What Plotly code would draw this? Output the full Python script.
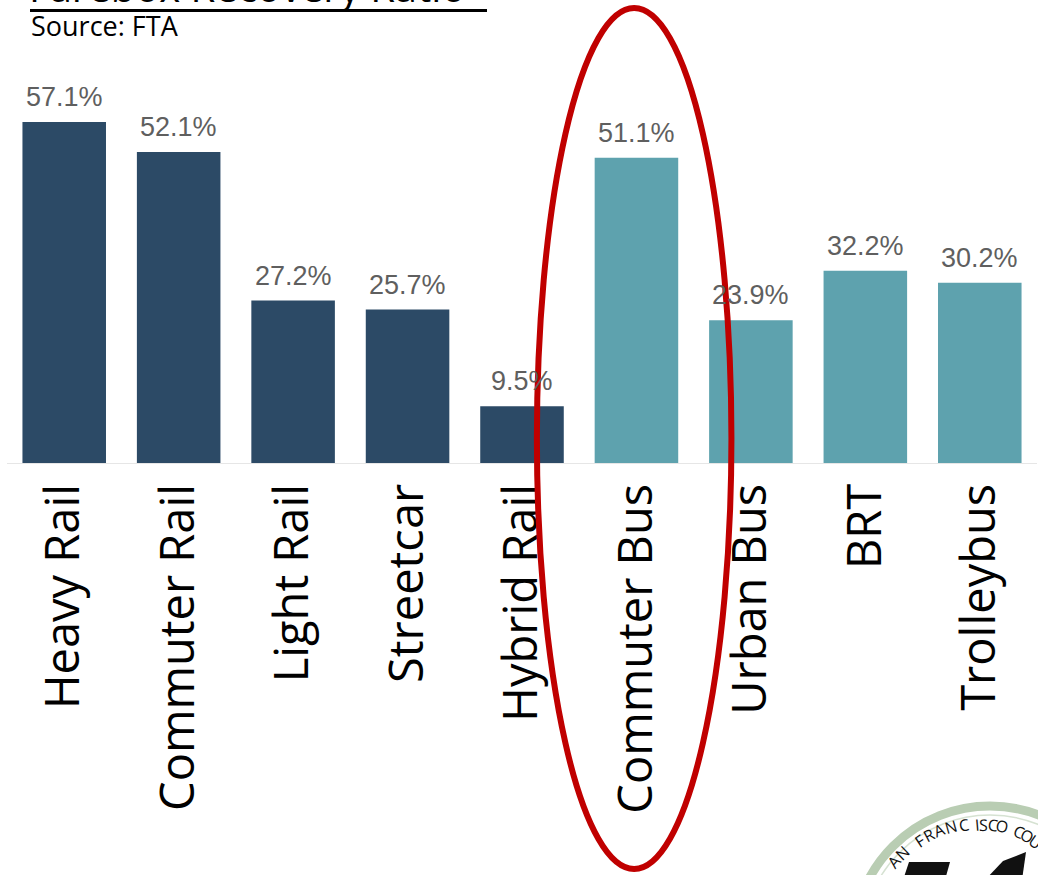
import math
import plotly.graph_objects as go

categories = ["Heavy Rail", "Commuter Rail", "Light Rail", "Streetcar", "Hybrid Rail",
              "Commuter Bus", "Urban Bus", "BRT", "Trolleybus"]
values = [57.1, 52.1, 27.2, 25.7, 9.5, 51.1, 23.9, 32.2, 30.2]
modes = ["Rail", "Rail", "Rail", "Rail", "Rail", "Bus", "Bus", "Bus", "Bus"]
value_labels = ["57.1%", "52.1%", "27.2%", "25.7%", "9.5%", "51.1%", "23.9%", "32.2%", "30.2%"]
title_text = "Farebox Recovery Ratio"
source_text = "Source: FTA"
highlight = "Commuter Bus"

colors = {"Rail": "#2c4a66", "Bus": "#5ea2ae"}

W, H = 1038, 875
ML, MR, MT, MB = 7, 1, 45, 412
PW, PH = W - ML - MR, H - MT - MB


def px(x):
    return (x - ML) / PW


def py(y):
    return (H - MB - y) / PH


fig = go.Figure()
fig.add_trace(go.Bar(
    x=categories, y=values,
    marker=dict(color=[colors[m] for m in modes], line=dict(width=0)),
    hoverinfo="x+y",
))

for c, v, t in zip(categories, values, value_labels):
    fig.add_annotation(x=c, y=v, text=t, showarrow=False, yanchor="bottom", yshift=8,
                       font=dict(family="Liberation Sans, Arial", size=27, color="#5f5f5f"))

# title (cut off at top of the slide) and source
fig.add_annotation(xref="paper", yref="paper", x=px(27), y=py(16), xanchor="left", yanchor="bottom",
                   text=title_text, showarrow=False,
                   font=dict(family="Open Sans", size=40, color="#000000"))
fig.add_shape(type="line", xref="paper", yref="paper", x0=px(30), x1=px(487), y0=py(10.5), y1=py(10.5),
              line=dict(color="#000000", width=3))
fig.add_annotation(xref="paper", yref="paper", x=px(29), y=py(46), xanchor="left", yanchor="bottom",
                   text=source_text, showarrow=False,
                   font=dict(family="Open Sans", size=27, color="#000000"))

# red ellipse highlighting Commuter Bus
hi = categories.index(highlight)
fig.add_shape(type="circle", xref="x", yref="paper",
              x0=hi - 0.87, x1=hi + 0.83, y0=py(869), y1=py(8),
              line=dict(color="#c00000", width=6), layer="above")

# partial logo in the bottom-right corner
cx, cy, R = 990, 943, 137
fig.add_shape(type="circle", xref="paper", yref="paper",
              x0=px(cx - R), x1=px(cx + R), y0=py(cy + R), y1=py(cy - R),
              line=dict(color="#b9cdb3", width=9), fillcolor="#ffffff", layer="above")
fig.add_shape(type="circle", xref="paper", yref="paper",
              x0=px(cx - R + 9), x1=px(cx + R - 9), y0=py(cy + R - 9), y1=py(cy - R + 9),
              line=dict(color="#d6e2d2", width=1.5), layer="above")
logo_letters = "AN FRANCISCO COU"
th, rt = -53, 105
for ch in logo_letters:
    w = 3.8 if ch == "I" else (4.5 if ch == " " else 6.0)
    th += w / 2
    if ch != " ":
        lx = cx + rt * math.sin(math.radians(th))
        ly = cy - rt * math.cos(math.radians(th))
        fig.add_annotation(xref="paper", yref="paper", x=px(lx), y=py(ly), text=ch, showarrow=False,
                           textangle=th, font=dict(family="Open Sans", size=16, color="#111111"))
    th += w / 2
fig.add_shape(type="path", xref="paper", yref="paper",
              path=f"M {px(903)} {py(880)} L {px(909)} {py(862)} L {px(950)} {py(862)} L {px(945)} {py(880)} Z",
              fillcolor="#111111", line=dict(width=0), layer="above")
fig.add_shape(type="path", xref="paper", yref="paper",
              path=f"M {px(985)} {py(880)} L {px(1003)} {py(861)} L {px(1026)} {py(852)} L {px(1022)} {py(880)} Z",
              fillcolor="#111111", line=dict(width=0), layer="above")

fig.update_layout(
    width=W, height=H,
    margin=dict(l=ML, r=MR, t=MT, b=MB, autoexpand=False),
    paper_bgcolor="#ffffff", plot_bgcolor="#ffffff",
    bargap=0.27, showlegend=False,
    xaxis=dict(type="category", tickangle=-90, ticks="", showgrid=False, zeroline=False,
               showline=True, linecolor="#e6e6e6", linewidth=1,
               tickfont=dict(family="Open Sans", size=47, color="#000000"),
               ticklabelstandoff=1),
    yaxis=dict(range=[0, 70], visible=False, showgrid=False, zeroline=False),
)

fig.write_html("out.html", config={"displayModeBar": False},
               post_script="document.body.style.margin='0';")
